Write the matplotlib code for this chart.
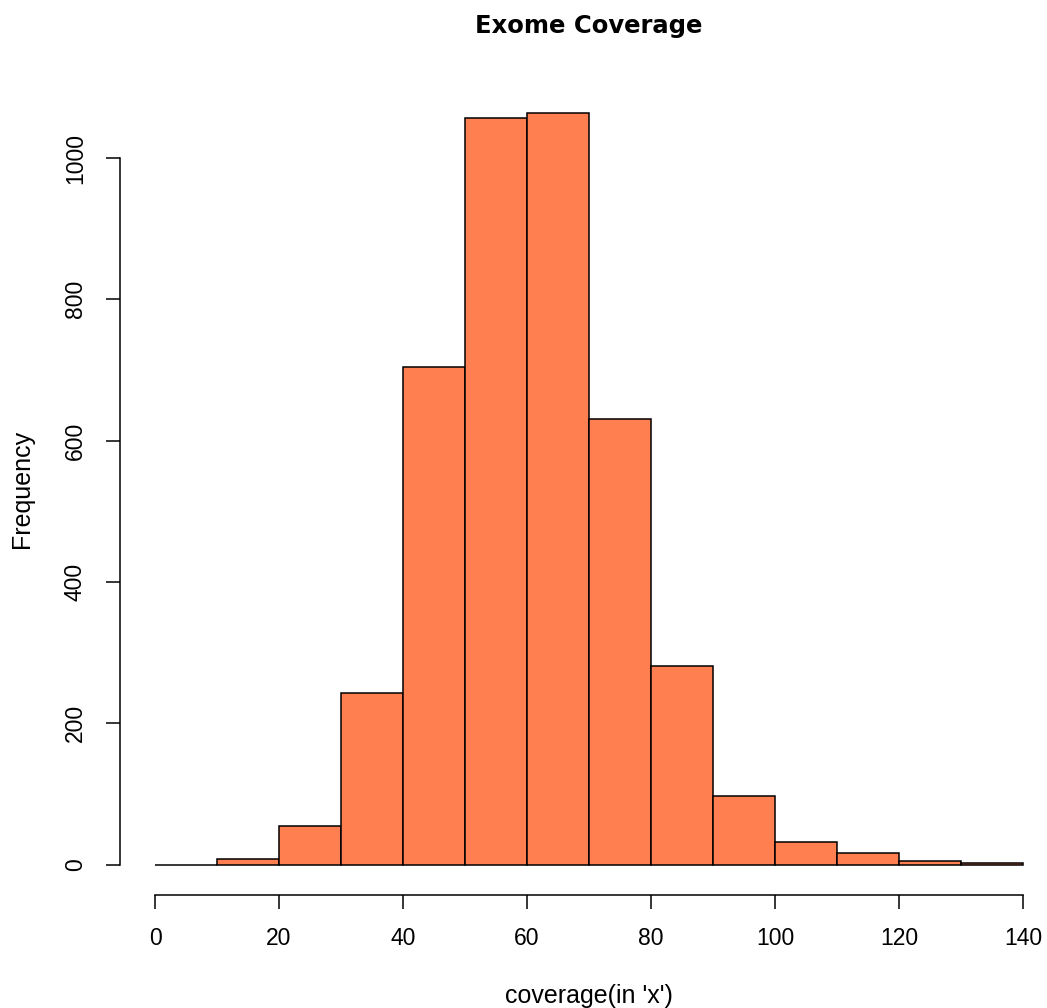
import matplotlib
matplotlib.use("Agg")
import matplotlib.pyplot as plt
import numpy as np

# Histogram of per-target exome coverage (10x-wide bins)
bin_edges = [0, 10, 20, 30, 40, 50, 60, 70, 80, 90, 100, 110, 120, 130, 140]
counts = [0, 8, 55, 243, 704, 1057, 1064, 631, 281, 97, 32, 17, 5, 2]
x_ticks = [0, 20, 40, 60, 80, 100, 120, 140]
y_ticks = [0, 200, 400, 600, 800, 1000]

title = "Exome Coverage"
x_label = "coverage(in 'x')"
y_label = "Frequency"
fill = "#FF7F50"

plt.rcParams['font.family'] = ['Liberation Sans', 'DejaVu Sans']

W, H = 1047, 1008
fig = plt.figure(figsize=(W / 100, H / 100), dpi=100)

# R-style 4% padding around the data range
xmin, xmax = bin_edges[0], bin_edges[-1]
xpad = 0.04 * (xmax - xmin)
ymax = max(counts)
ypad = 0.04 * ymax
xlim = (xmin - xpad, xmax + xpad)
ylim = (-ypad, ymax + ypad)

left_px, right_px = 120.3, 1057.7
top_px, bottom_px = 82.7, 894.8
ax = fig.add_axes([left_px / W, 1 - bottom_px / H,
                   (right_px - left_px) / W, (bottom_px - top_px) / H])
ax.set_xlim(*xlim)
ax.set_ylim(*ylim)

lefts = np.array(bin_edges[:-1])
widths = np.diff(bin_edges)
ax.bar(lefts, counts, width=widths, align='edge', color=fill,
       edgecolor='black', linewidth=1.1)

for side in ('top', 'right'):
    ax.spines[side].set_visible(False)
ax.spines['bottom'].set_bounds(x_ticks[0], x_ticks[-1])
ax.spines['left'].set_bounds(y_ticks[0], y_ticks[-1])
for side in ('bottom', 'left'):
    ax.spines[side].set_linewidth(1.1)

ax.set_xticks(x_ticks)
ax.set_xticklabels([str(v) for v in x_ticks])
ax.set_yticks(y_ticks)
ax.set_yticklabels([str(v) for v in y_ticks], rotation=90, va='center')
ax.tick_params(axis='both', direction='out', length=10, width=1.1,
               labelsize=16.5, colors='black')
ax.tick_params(axis='x', pad=13)
ax.tick_params(axis='y', pad=14)

ax.set_title(title, fontsize=17.5, fontweight='bold', pad=36,
             family=['DejaVu Sans'])
ax.set_xlabel(x_label, fontsize=18)
ax.set_ylabel(y_label, fontsize=18)
ax.xaxis.set_label_coords(0.5, -0.110)
ax.yaxis.set_label_coords(-0.092, 0.5)

fig.savefig("out.png", dpi=100, facecolor='white')
